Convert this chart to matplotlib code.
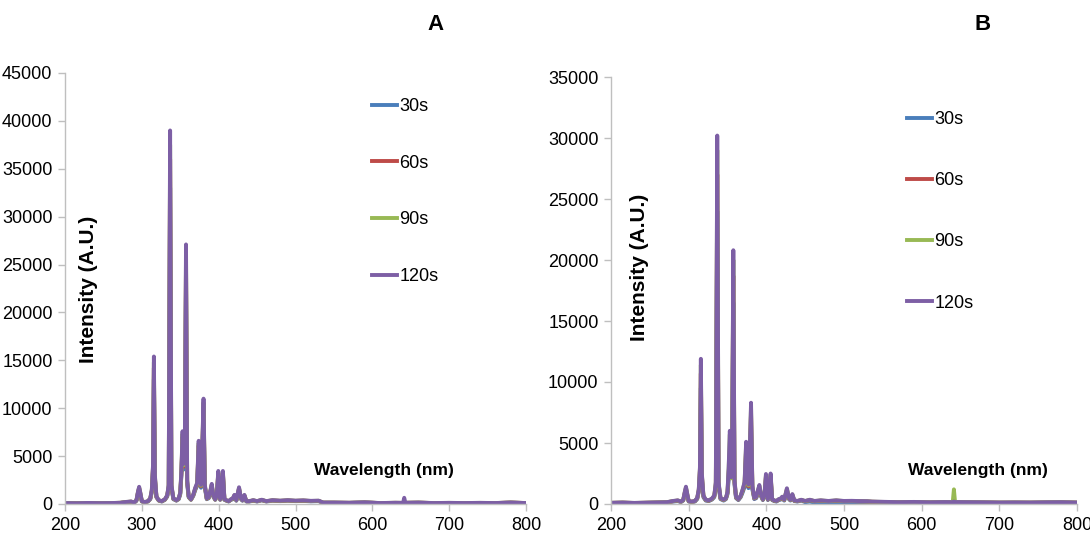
#Spektre A og B

#Import
import matplotlib
matplotlib.use("Agg")
import matplotlib.pyplot as plt

# Data - bølgelængde (nm), fælles for alle serier
wl = [200, 215, 230, 245, 260, 272, 280, 286, 290, 293,
      295, 296.5, 298, 300, 304, 308, 311, 313, 314.5, 315.7,
      317, 319, 322, 326, 330, 333, 335, 336.8, 338.5, 341,
      345, 348, 350, 351.5, 353, 354.5, 356, 357.5, 359, 361,
      364, 367, 369.5, 372, 374, 375.5, 377, 378.5, 380.3, 382,
      384.5, 387, 389.5, 391, 393, 395.5, 397.5, 399.5, 402, 404,
      405.5, 407.5, 410, 413, 416, 418.5, 420.5, 423, 426.5, 429,
      431, 433.5, 436, 440, 445, 450, 456, 462, 470, 480,
      490, 500, 510, 520, 530, 536, 550, 570, 590, 610,
      630, 640, 641.5, 643, 660, 680, 700, 720, 740, 760, 780, 800]

# Panel A
a_30s = [90, 70, 100, 80, 90, 110, 190, 220, 140, 330,
         1100, 1500, 1000, 260, 180, 260, 500, 1250, 3400, 13000,
         2500, 700, 350, 260, 430, 760, 1700, 33000, 1700, 500,
         350, 500, 1000, 3000, 6500, 3600, 5500, 23000, 2100, 700,
         430, 850, 1450, 1900, 5600, 2100, 1700, 4700, 9300, 1700,
         500, 600, 1300, 1800, 760, 430, 760, 2900, 430, 760,
         2900, 430, 340, 260, 430, 500, 800, 340, 1500, 500,
         340, 800, 260, 260, 340, 260, 380, 260, 340, 300,
         340, 300, 320, 280, 300, 130, 130, 110, 150, 90,
         110, 100, 150, 110, 130, 90, 100, 90, 100, 90, 130, 90]
a_60s = [95, 75, 105, 85, 95, 120, 200, 240, 150, 360,
         1200, 1650, 1100, 280, 190, 280, 550, 1350, 3700, 14200,
         2700, 740, 370, 280, 460, 830, 1850, 36000, 1850, 550,
         370, 550, 1100, 3200, 7000, 3900, 6000, 25000, 2300, 740,
         460, 920, 1550, 2000, 6100, 2300, 1850, 5100, 10100, 1850,
         550, 650, 1400, 1950, 830, 460, 830, 3200, 460, 830,
         3200, 460, 370, 280, 460, 550, 870, 370, 1600, 550,
         370, 870, 280, 280, 370, 280, 410, 280, 370, 320,
         370, 320, 350, 300, 320, 140, 140, 120, 160, 95,
         120, 110, 160, 120, 140, 95, 110, 95, 110, 95, 150, 95]
a_90s = [98, 78, 108, 88, 98, 125, 210, 250, 155, 380,
         1250, 1720, 1150, 290, 195, 290, 580, 1430, 3850, 14800,
         2850, 770, 385, 290, 480, 870, 1920, 37500, 1920, 580,
         385, 580, 1150, 3350, 7300, 4050, 6250, 26000, 2400, 770,
         480, 960, 1630, 2100, 6350, 2400, 1920, 5300, 10600, 1920,
         580, 670, 1450, 2000, 870, 480, 870, 3300, 480, 870,
         3300, 480, 385, 290, 480, 580, 910, 385, 1680, 580,
         385, 910, 290, 290, 385, 290, 430, 290, 385, 335,
         385, 335, 365, 315, 335, 145, 145, 125, 170, 98,
         125, 115, 170, 125, 145, 98, 115, 98, 115, 98, 155, 98]
a_120s = [100, 80, 110, 90, 100, 130, 220, 260, 160, 400,
          1300, 1800, 1200, 300, 200, 300, 600, 1500, 4000, 15400,
          3000, 800, 400, 300, 500, 900, 2000, 39000, 2000, 600,
          400, 600, 1200, 3500, 7600, 4200, 6500, 27100, 2500, 800,
          500, 1000, 1700, 2200, 6600, 2500, 2000, 5500, 11000, 2000,
          600, 700, 1500, 2100, 900, 500, 900, 3450, 500, 900,
          3450, 500, 400, 300, 500, 600, 950, 400, 1750, 600,
          400, 950, 300, 300, 400, 300, 450, 300, 400, 350,
          400, 350, 380, 330, 350, 150, 150, 130, 180, 100,
          130, 120, 650, 130, 150, 100, 120, 100, 120, 100, 160, 100]

# Panel B
b_30s = [80, 100, 70, 90, 110, 120, 200, 240, 160, 280,
         800, 1150, 700, 200, 160, 200, 400, 1000, 2300, 9500,
         2000, 550, 280, 240, 360, 560, 1400, 24000, 1400, 400,
         280, 400, 800, 2000, 3200, 2500, 3800, 16500, 1600, 480,
         320, 560, 950, 1400, 3800, 1700, 1300, 3200, 6500, 1200,
         400, 480, 950, 1250, 640, 320, 560, 1950, 320, 560,
         2000, 320, 240, 200, 320, 360, 480, 280, 1000, 400,
         280, 650, 240, 200, 280, 150, 200, 120, 160, 110,
         150, 100, 90, 100, 110, 150, 140, 120, 130, 110,
         130, 120, 160, 130, 120, 110, 100, 100, 100, 110, 120, 100]
b_60s = [90, 110, 80, 100, 120, 135, 225, 270, 180, 315,
         900, 1280, 800, 225, 180, 225, 450, 1080, 2700, 10700,
         2250, 630, 315, 270, 400, 630, 1600, 27000, 1600, 450,
         315, 450, 900, 2500, 4000, 3100, 4300, 18700, 1800, 540,
         360, 630, 1080, 1600, 4500, 1800, 1440, 3600, 7450, 1350,
         450, 540, 1080, 1400, 720, 360, 630, 2200, 360, 630,
         2250, 360, 270, 225, 360, 400, 540, 315, 1150, 450,
         315, 730, 270, 225, 315, 225, 315, 225, 270, 225,
         270, 225, 235, 215, 205, 180, 160, 135, 150, 125,
         145, 135, 180, 145, 135, 125, 110, 115, 110, 125, 135, 110]
b_90s = [95, 115, 85, 105, 125, 145, 240, 285, 190, 335,
         950, 1360, 860, 240, 190, 240, 480, 1150, 2880, 11400,
         2400, 670, 335, 285, 430, 670, 1720, 29000, 1720, 480,
         335, 480, 960, 2880, 5700, 2100, 4800, 20000, 1900, 575,
         385, 670, 1150, 1720, 4900, 1900, 1530, 3840, 7950, 1440,
         480, 575, 1150, 1500, 770, 385, 670, 2360, 385, 670,
         2400, 385, 290, 240, 385, 430, 575, 335, 1240, 480,
         335, 780, 290, 240, 335, 240, 335, 240, 290, 240,
         290, 240, 250, 230, 220, 190, 170, 145, 160, 135,
         155, 145, 1200, 155, 145, 135, 115, 125, 115, 135, 145, 115]
b_120s = [100, 120, 90, 110, 130, 150, 250, 300, 200, 350,
          1000, 1420, 900, 250, 200, 250, 500, 1200, 3000, 11900,
          2500, 700, 350, 300, 450, 700, 1800, 30200, 1800, 500,
          350, 500, 1000, 3000, 6000, 2200, 5000, 20800, 2000, 600,
          400, 700, 1200, 1800, 5100, 2000, 1600, 4000, 8300, 1500,
          500, 600, 1200, 1560, 800, 400, 700, 2460, 400, 700,
          2500, 400, 300, 250, 400, 450, 600, 350, 1290, 500,
          350, 810, 300, 250, 350, 250, 350, 250, 300, 250,
          300, 250, 260, 240, 230, 200, 180, 150, 170, 140,
          160, 150, 200, 160, 150, 140, 120, 130, 120, 140, 150, 120]

labels = ["30s", "60s", "90s", "120s"]
farver = ["#4a7ebb", "#be4b48", "#98b954", "#7d5fa5"]

plt.rcParams['font.family'] = ['Liberation Sans', 'DejaVu Sans']

W, H = 1090, 541
fig = plt.figure(figsize=(W / 100, H / 100), dpi=100)

def px(x0, y0, x1, y1):
    # pixelkasse -> figur-brøk
    return [x0 / W, 1 - y1 / H, (x1 - x0) / W, (y1 - y0) / H]

axA = fig.add_axes(px(65, 73, 526, 504))
axB = fig.add_axes(px(611, 77, 1077, 504))

for ax, serier, ymax in [(axA, [a_30s, a_60s, a_90s, a_120s], 45000),
                         (axB, [b_30s, b_60s, b_90s, b_120s], 35000)]:
    for s, lab, c in zip(serier, labels, farver):
        ax.plot(wl, s, color=c, lw=2.8, label=lab, solid_joinstyle='round')
    ax.set_xlim(200, 800)
    ax.set_ylim(0, ymax)
    ax.set_xticks(range(200, 801, 100))
    ax.set_yticks(range(0, ymax + 1, 5000))
    for side in ['top', 'right']:
        ax.spines[side].set_visible(False)
    for side in ['left', 'bottom']:
        ax.spines[side].set_color('#bfbfbf')
        ax.spines[side].set_linewidth(1.0)
    ax.tick_params(direction='out', length=5, width=1, color='#bfbfbf',
                   labelsize=13, pad=4, labelcolor='black')
    ax.margins(0)

# Aksetitler
axA.text(0.05, 0.497, "Intensity (A.U.)", transform=axA.transAxes, rotation=90,
         ha='center', va='center', fontsize=15, fontweight='bold')
axB.text(0.062, 0.553, "Intensity (A.U.)", transform=axB.transAxes, rotation=90,
         ha='center', va='center', fontsize=15, fontweight='bold')
fig.text(384 / W, 1 - 470 / H, "Wavelength (nm)", ha='center', va='center',
         fontsize=12.5, fontweight='bold')
fig.text(978 / W, 1 - 470 / H, "Wavelength (nm)", ha='center', va='center',
         fontsize=12.5, fontweight='bold')
fig.text(435 / W, 1 - 25 / H, "A", ha='center', va='center', fontsize=16, fontweight='bold')
fig.text(983 / W, 1 - 25 / H, "B", ha='center', va='center', fontsize=16, fontweight='bold')

# Legender
axA.legend(loc='upper left', bbox_to_anchor=(372 / W, 1 - 98 / H), bbox_transform=fig.transFigure,
           frameon=False, fontsize=13, handlelength=1.4, handletextpad=0.12,
           labelspacing=2.2, borderpad=0, borderaxespad=0)
axB.legend(loc='upper left', bbox_to_anchor=(907 / W, 1 - 111 / H), bbox_transform=fig.transFigure,
           frameon=False, fontsize=13, handlelength=1.4, handletextpad=0.12,
           labelspacing=2.45, borderpad=0, borderaxespad=0)

plt.savefig("out.png", dpi=100)
